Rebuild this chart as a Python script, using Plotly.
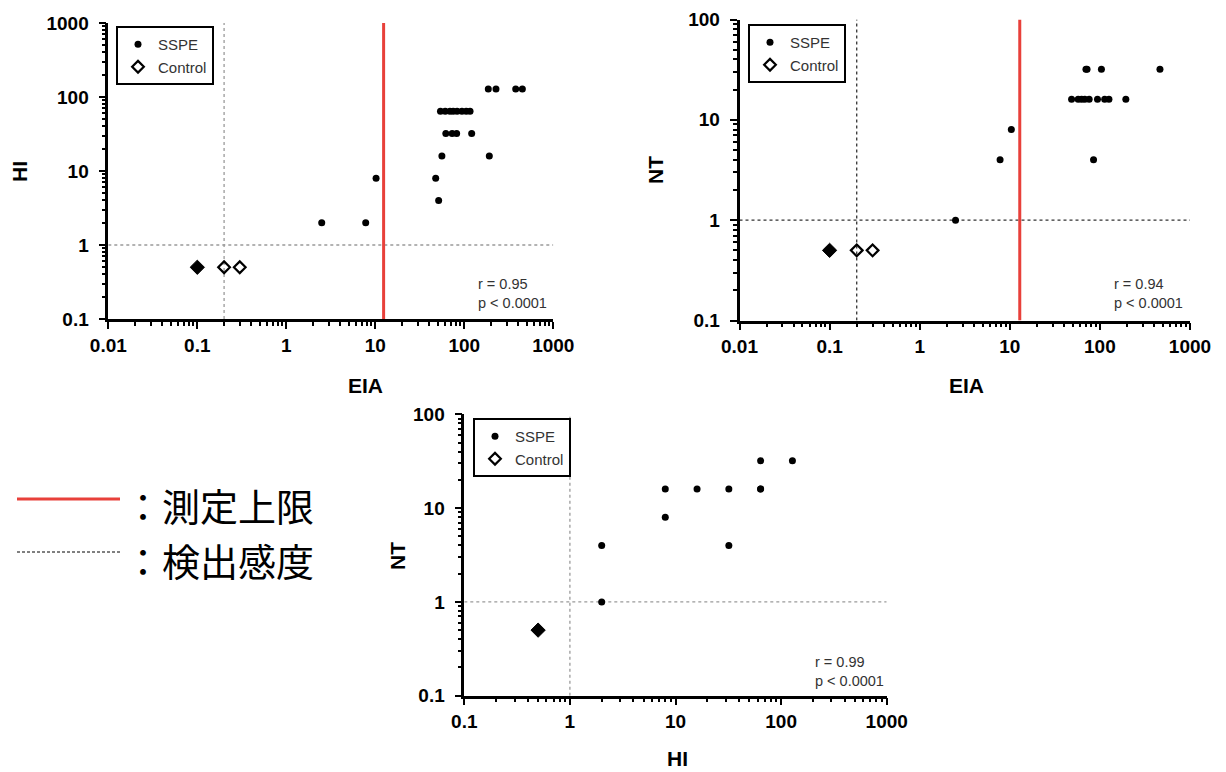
import numpy as np
import plotly.graph_objects as go

# page is rendered inside an 8px body margin: the figure fills the rest of the window
OFF = 8
W, H = 1226 - OFF, 772 - OFF

# ---------------- data ----------------
# Panel A: EIA vs HI
a_sspe_eia = [2.5, 7.8, 10.2, 47.7, 51.5, 56, 191,
              62, 73, 82, 121,
              54, 61, 69, 75, 83, 94, 105, 116,
              186, 227, 378, 449]
a_sspe_hi = [2, 2, 8, 8, 4, 16, 16,
             32, 32, 32, 32,
             64, 64, 64, 64, 64, 64, 64, 64,
             128, 128, 128, 128]
a_ctrl_open_eia = [0.2, 0.3]
a_ctrl_open_hi = [0.5, 0.5]
a_ctrl_fill_eia = [0.1]
a_ctrl_fill_hi = [0.5]
a_upper_limit = 12.4
a_detect_x = 0.2
a_detect_y = 1
a_stats = "r = 0.95<br>p < 0.0001"

# Panel B: EIA vs NT
b_sspe_eia = [2.5, 7.8, 10.4, 85,
              48.5, 57.4, 62.6, 68, 76, 94, 113, 126, 194,
              70, 72, 104, 464]
b_sspe_nt = [1, 4, 8, 4,
             16, 16, 16, 16, 16, 16, 16, 16, 16,
             32, 32, 32, 32]
b_ctrl_open_eia = [0.2, 0.3]
b_ctrl_open_nt = [0.5, 0.5]
b_ctrl_fill_eia = [0.1]
b_ctrl_fill_nt = [0.5]
b_upper_limit = 12.9
b_detect_x = 0.2
b_detect_y = 1
b_stats = "r = 0.94<br>p < 0.0001"

# Panel C: HI vs NT
c_sspe_hi = [2, 2, 8, 8, 16, 32, 32, 64, 64, 64, 128]
c_sspe_nt = [4, 1, 16, 8, 16, 16, 4, 16, 16, 32, 32]
c_ctrl_fill_hi = [0.5]
c_ctrl_fill_nt = [0.5]
c_detect_x = 1
c_detect_y = 1
c_stats = "r = 0.99<br>p < 0.0001"

x_ticks_eia = [0.01, 0.1, 1, 10, 100, 1000]
x_ticks_hi = [0.1, 1, 10, 100, 1000]
y_ticks_hi = [0.1, 1, 10, 100, 1000]
y_ticks_nt = [0.1, 1, 10, 100]

legend_names = ["SSPE", "Control"]
key_labels = ["：測定上限", "：検出感度"]


def fmt(v):
    return ("%g" % v)


def px(x):
    return (x - OFF) / W


def py(y):
    return 1 - (y - OFF) / H


def minor_vals(lo, hi):
    out = []
    for e in range(lo, hi):
        for m in range(2, 10):
            out.append(m * 10.0 ** e)
    return out


fig = go.Figure()

RED = "#e8403a"
TICKFONT = dict(family="Liberation Sans", size=19, color="black", weight="bold")

panels = [
    dict(xa="x", ya="y", sx=a_sspe_eia, sy=a_sspe_hi,
         ox=a_ctrl_open_eia, oy=a_ctrl_open_hi,
         fx=a_ctrl_fill_eia, fy=a_ctrl_fill_hi,
         ul=a_upper_limit, dx=a_detect_x, dy=a_detect_y,
         xr=(0.01, 1000), yr=(0.1, 1000),
         dcol="#9a9a9a", ddash="dot", legend="legend"),
    dict(xa="x2", ya="y2", sx=b_sspe_eia, sy=b_sspe_nt,
         ox=b_ctrl_open_eia, oy=b_ctrl_open_nt,
         fx=b_ctrl_fill_eia, fy=b_ctrl_fill_nt,
         ul=b_upper_limit, dx=b_detect_x, dy=b_detect_y,
         xr=(0.01, 1000), yr=(0.1, 100),
         dcol="#333333", ddash="dot", legend="legend2"),
    dict(xa="x3", ya="y3", sx=c_sspe_hi, sy=c_sspe_nt,
         ox=[], oy=[],
         fx=c_ctrl_fill_hi, fy=c_ctrl_fill_nt,
         ul=None, dx=c_detect_x, dy=c_detect_y,
         xr=(0.1, 1000), yr=(0.1, 100),
         dcol="#9a9a9a", ddash="dot", legend="legend3"),
]

for p in panels:
    # detection-sensitivity lines
    fig.add_trace(go.Scatter(x=[p["xr"][0], p["xr"][1]], y=[p["dy"], p["dy"]],
                             mode="lines", xaxis=p["xa"], yaxis=p["ya"],
                             line=dict(color=p["dcol"], width=1.3, dash=p["ddash"]),
                             showlegend=False, hoverinfo="skip"))
    fig.add_trace(go.Scatter(x=[p["dx"], p["dx"]], y=[p["yr"][0], p["yr"][1]],
                             mode="lines", xaxis=p["xa"], yaxis=p["ya"],
                             line=dict(color=p["dcol"], width=1.3, dash=p["ddash"]),
                             showlegend=False, hoverinfo="skip"))
    if p["ul"] is not None:
        fig.add_trace(go.Scatter(x=[p["ul"], p["ul"]], y=[p["yr"][0], p["yr"][1]],
                                 mode="lines", xaxis=p["xa"], yaxis=p["ya"],
                                 line=dict(color=RED, width=3),
                                 showlegend=False, hoverinfo="skip"))
    fig.add_trace(go.Scatter(x=p["sx"], y=p["sy"], mode="markers", name=legend_names[0],
                             xaxis=p["xa"], yaxis=p["ya"], legend=p["legend"],
                             marker=dict(symbol="circle", size=7, color="black")))
    fig.add_trace(go.Scatter(x=p["ox"] if p["ox"] else [None], y=p["oy"] if p["oy"] else [None],
                             mode="markers", name=legend_names[1],
                             xaxis=p["xa"], yaxis=p["ya"], legend=p["legend"],
                             marker=dict(symbol="diamond-open", size=9, color="black",
                                         line=dict(width=2.2, color="black"))))
    fig.add_trace(go.Scatter(x=p["fx"], y=p["fy"], mode="markers",
                             xaxis=p["xa"], yaxis=p["ya"], showlegend=False,
                             marker=dict(symbol="diamond", size=11, color="black",
                                         line=dict(width=1, color="black"))))

# stats annotations
stats = [(a_stats, 476, 293), (b_stats, 1112, 293), (c_stats, 813, 671)]
annotations = []
for txt, x, y in stats:
    annotations.append(dict(text=txt, x=px(x), y=py(y), xref="paper", yref="paper",
                            xanchor="left", yanchor="middle", align="left", showarrow=False,
                            font=dict(family="Liberation Sans", size=14.5, color="#333")))

# axis titles
titles = [("EIA", 366, 385, 0), ("EIA", 966, 385, 0), ("HI", 677, 758, 0),
          ("HI", 20, 172, -90), ("NT", 656, 170, -90), ("NT", 397, 556, -90)]
for t, x, y, ang in titles:
    annotations.append(dict(text=t, x=px(x), y=py(y), xref="paper", yref="paper",
                            xanchor="center", yanchor="middle", showarrow=False, textangle=ang,
                            font=dict(family="Liberation Sans", size=21, color="black", weight="bold")))

# left key
for lab, yc in zip(key_labels, [504, 559]):
    annotations.append(dict(text=lab, x=px(122), y=py(yc), xref="paper", yref="paper",
                            xanchor="left", yanchor="middle", align="left", showarrow=False,
                            font=dict(family="Noto Sans CJK JP", size=38, color="black")))
shapes = [
    dict(type="line", xref="paper", yref="paper", x0=px(17), x1=px(120), y0=py(499), y1=py(499),
         line=dict(color=RED, width=3)),
    dict(type="line", xref="paper", yref="paper", x0=px(17), x1=px(120), y0=py(552), y1=py(552),
         line=dict(color="black", width=1, dash="3px,2px")),
]


def axis(domain, rng, ticks, anchor, standoff):
    lo, hi = int(np.log10(rng[0])), int(np.log10(rng[1]))
    return dict(type="log", domain=domain, range=[np.log10(rng[0]), np.log10(rng[1])],
                anchor=anchor, showline=True, linecolor="black", linewidth=2.5,
                ticks="outside", ticklen=7, tickwidth=2.2, tickcolor="black",
                tickvals=ticks, ticktext=[fmt(v) for v in ticks],
                tickfont=TICKFONT, ticklabelstandoff=standoff, automargin=False,
                ticklabeloverflow="allow",
                minor=dict(ticks="outside", ticklen=4, tickwidth=1.6, tickcolor="black",
                           tickmode="array", tickvals=minor_vals(lo, hi), showgrid=False),
                showgrid=False, zeroline=False, fixedrange=True)


legend_common = dict(bordercolor="black", borderwidth=2, bgcolor="white",
                     font=dict(family="Liberation Sans", size=15, color="#333"),
                     xanchor="left", yanchor="top", itemwidth=30, tracegroupgap=0,
                     xref="paper", yref="paper")

fig.update_layout(
    width=W, height=H, margin=dict(l=0, r=0, t=0, b=0, pad=0, autoexpand=False),
    paper_bgcolor="white", plot_bgcolor="white",
    xaxis=axis([px(108.3), px(553.3)], (0.01, 1000), x_ticks_eia, "y", 0),
    yaxis=axis([py(319), py(23)], (0.1, 1000), y_ticks_hi, "x", 6),
    xaxis2=axis([px(739.5), px(1190)], (0.01, 1000), x_ticks_eia, "y2", 0),
    yaxis2=axis([py(320.5), py(19.5)], (0.1, 100), y_ticks_nt, "x2", 6),
    xaxis3=axis([px(464.3), px(886.7)], (0.1, 1000), x_ticks_hi, "y3", 0),
    yaxis3=axis([py(695.7), py(414.3)], (0.1, 100), y_ticks_nt, "x3", 6),
    legend=dict(x=px(116), y=py(26), **legend_common),
    legend2=dict(x=px(748), y=py(24), **legend_common),
    legend3=dict(x=px(473), y=py(418), **legend_common),
    annotations=annotations, shapes=shapes, showlegend=True,
)

fig.write_html("out.html")
